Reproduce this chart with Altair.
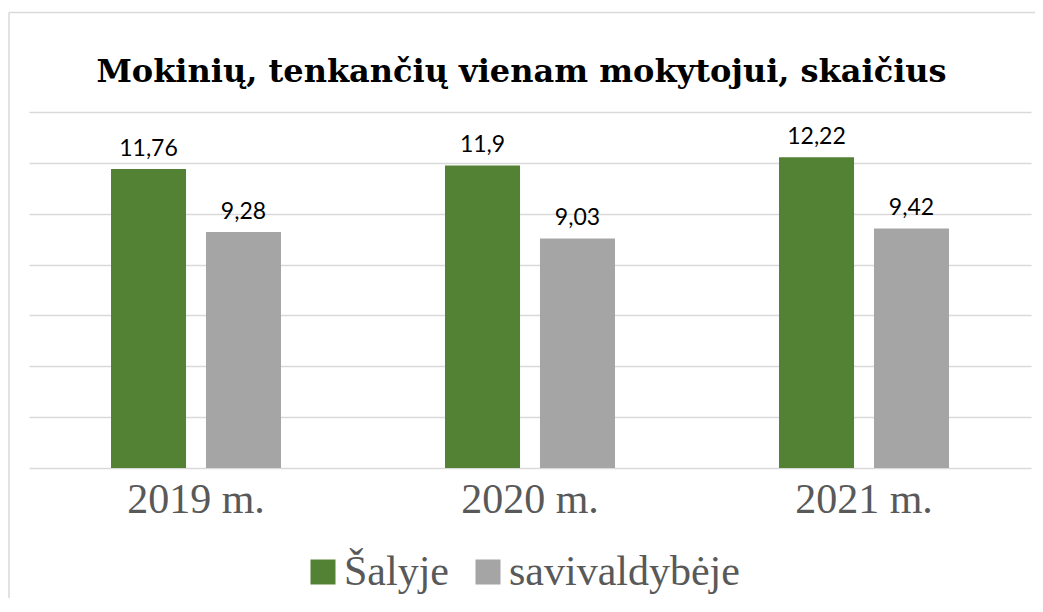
import altair as alt
import pandas as pd

title_text = "Mokinių, tenkančių vienam mokytojui, skaičius"
years = ["2019 m.", "2020 m.", "2021 m."]
series = ["Šalyje", "savivaldybėje"]
salyje = [11.76, 11.9, 12.22]
savivaldybeje = [9.28, 9.03, 9.42]
colors = ["#548235", "#A5A5A5"]
y_ticks = [0, 2, 4, 6, 8, 10, 12, 14]

rows = []
for i, yr in enumerate(years):
    rows.append({"year": yr, "series": series[0], "value": salyje[i]})
    rows.append({"year": yr, "series": series[1], "value": savivaldybeje[i]})
df = pd.DataFrame(rows)

W, H = 1002, 356

base = alt.Chart(df).transform_calculate(
    label="replace(toString(datum.value), '.', ',')"
).encode(
    x=alt.X(
        "year:N", sort=years, title=None,
        scale=alt.Scale(paddingInner=0.491, paddingOuter=0.2455),
        axis=alt.Axis(labelAngle=0, labelFont="Liberation Serif", labelFontSize=42,
                      labelColor="#595959", ticks=False, domain=False, labelPadding=11),
    ),
    xOffset=alt.XOffset("series:N", sort=series,
                        scale=alt.Scale(paddingInner=0.21, paddingOuter=0)),
    y=alt.Y(
        "value:Q", scale=alt.Scale(domain=[0, 14], nice=False), title=None,
        axis=alt.Axis(values=y_ticks, labels=False, ticks=False, domain=False,
                      grid=True, gridColor="#d9d9d9", gridWidth=1.5),
    ),
)

bars = base.mark_bar().encode(
    color=alt.Color(
        "series:N", sort=series,
        scale=alt.Scale(domain=series, range=colors),
        legend=alt.Legend(
            title=None, orient="none", legendX=273, legendY=439, direction="horizontal",
            symbolType="square", symbolSize=625, symbolStrokeWidth=0,
            labelFont="Liberation Serif", labelFontSize=42, labelColor="#595959",
            labelOffset=0, columnPadding=18, padding=0, symbolOpacity=1,
            labelLimit=500,
        ),
    )
)

labels = base.mark_text(baseline="alphabetic", dy=-13, font="Lato", fontSize=23,
                        color="#000000").encode(text="label:N")

one = pd.DataFrame({"a": [0]})
frame_left = alt.Chart(one).mark_rule(color="#d9d9d9", strokeWidth=1.5).encode(
    x=alt.value(-20), y=alt.value(-99.5), y2=alt.value(700))
frame_top = alt.Chart(one).mark_rule(color="#d9d9d9", strokeWidth=1.5).encode(
    x=alt.value(-20), x2=alt.value(1100), y=alt.value(-99.5))

title = alt.Chart(one).mark_text(
    font="DejaVu Serif", fontSize=32, fontWeight="bold", color="#000000",
    align="center", baseline="alphabetic",
).encode(text=alt.value(title_text), x=alt.value(492.5), y=alt.value(-30))

chart = alt.layer(frame_left, frame_top, title, bars, labels).properties(
    width=W, height=H,
    autosize=alt.AutoSizeParams(type="none"),
    padding={"left": 21, "top": 104, "right": 4, "bottom": 130},
).configure_view(stroke=None)

chart.save("out.html", embed_options={"renderer": "svg", "actions": False})
